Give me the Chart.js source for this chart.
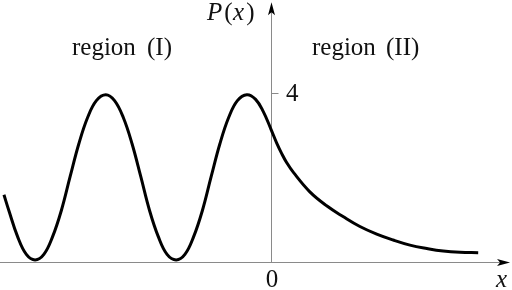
<!DOCTYPE html>
<html>
<head>
<meta charset="utf-8">
<title>P(x)</title>
<script src="https://cdn.jsdelivr.net/npm/chart.js"></script>
<style>
  html, body { margin: 0; padding: 0; background: #fff; }
  #wrap { width: 512px; height: 290px; }
</style>
</head>
<body>
<div id="wrap"><canvas id="chart"></canvas></div>
<script>
// values (x in arbitrary units, 0 at the P axis)
const xRegion1 = [-7.63, -7.49, -7.24, -6.99, -6.74, -6.49, -6.24, -5.99, -5.74, -5.49, -5.24, -4.99, -4.72,
  -4.47, -4.22, -3.97, -3.72, -3.47, -3.22, -2.97, -2.71, -2.46, -2.21, -1.96, -1.71, -1.46, -1.21, -0.96, -0.69,
  -0.44, -0.22, 0];
const pRegion1 = [1.59, 1.22, 0.60, 0.18, 0.05, 0.18, 0.60, 1.22, 2.02, 2.80, 3.42, 3.82, 3.96,
  3.82, 3.42, 2.80, 2.02, 1.22, 0.60, 0.18, 0.05, 0.18, 0.60, 1.22, 2.02, 2.80, 3.42, 3.82, 3.96,
  3.85, 3.56, 3.14];
const xRegion2 = [0.16, 0.31, 0.45, 0.64, 1.11, 1.59, 2.07, 2.54, 3.02, 3.49, 3.97, 4.45, 4.92, 5.40, 5.92];
const pRegion2 = [2.82, 2.56, 2.35, 2.12, 1.66, 1.33, 1.07, 0.84, 0.66, 0.52, 0.40, 0.32, 0.26, 0.23, 0.22];
const yTicks = [4];
const xTicks = [0];

const points = xRegion1.map((x, i) => ({ x: x, y: pRegion1[i] }))
  .concat(xRegion2.map((x, i) => ({ x: x, y: pRegion2[i] })));

const axisColor = '#8a8a8a';
const textColor = '#111';
const serif = '"Liberation Serif", serif';

function arrow(ctx, tipX, tipY, dir) {
  ctx.save();
  ctx.fillStyle = '#000';
  ctx.beginPath();
  if (dir === 'up') {
    ctx.moveTo(tipX, tipY);
    ctx.lineTo(tipX + 3.5, tipY + 13);
    ctx.lineTo(tipX, tipY + 10);
    ctx.lineTo(tipX - 3.5, tipY + 13);
  } else {
    ctx.moveTo(tipX, tipY);
    ctx.lineTo(tipX - 13, tipY - 3.5);
    ctx.lineTo(tipX - 10, tipY);
    ctx.lineTo(tipX - 13, tipY + 3.5);
  }
  ctx.closePath();
  ctx.fill();
  ctx.restore();
}

const axesPlugin = {
  id: 'axes',
  beforeDatasetsDraw(chart) {
    const ctx = chart.ctx;
    const xs = chart.scales.x, ys = chart.scales.y;
    const x0 = Math.round(xs.getPixelForValue(0)) + 0.5;
    const y0 = Math.round(ys.getPixelForValue(0)) + 0.5;
    const xEnd = xs.getPixelForValue(6.83);
    const yEnd = ys.getPixelForValue(6.15);
    ctx.save();
    ctx.strokeStyle = axisColor;
    ctx.lineWidth = 1;
    ctx.beginPath();
    ctx.moveTo(chart.chartArea.left, y0);
    ctx.lineTo(xEnd - 6, y0);
    ctx.moveTo(x0, y0);
    ctx.lineTo(x0, yEnd + 6);
    yTicks.forEach(v => {
      const py = Math.round(ys.getPixelForValue(v)) + 0.5;
      ctx.moveTo(x0, py);
      ctx.lineTo(x0 + 7, py);
    });
    ctx.stroke();
    ctx.restore();
    arrow(ctx, x0, yEnd, 'up');
    arrow(ctx, xEnd, y0, 'right');
  },
  afterDraw(chart) {
    const ctx = chart.ctx;
    const xs = chart.scales.x, ys = chart.scales.y;
    const x0 = xs.getPixelForValue(0);
    const y0 = ys.getPixelForValue(0);
    ctx.save();
    ctx.fillStyle = textColor;
    ctx.textBaseline = 'alphabetic';
    ctx.font = '25px ' + serif;

    yTicks.forEach(v => {
      ctx.textAlign = 'left';
      ctx.fillText(String(v), x0 + 15, ys.getPixelForValue(v) + 8);
    });
    xTicks.forEach(v => {
      ctx.textAlign = 'center';
      ctx.fillText(String(v), xs.getPixelForValue(v) + 1, y0 + 25);
    });

    ctx.textAlign = 'left';
    ctx.fillText('region', 72, 55);
    ctx.fillText('(I)', 147, 55);
    ctx.fillText('region', 312, 55);
    ctx.fillText('(II)', 386, 55);

    ctx.font = 'italic 25px ' + serif;
    ctx.fillText('x', 496, y0 + 25);

    let px = 207;
    const parts = [['P', true], ['(', false], ['x', true], [')', false]];
    parts.forEach(([t, it]) => {
      ctx.font = (it ? 'italic ' : '') + '25px ' + serif;
      ctx.fillText(t, px, 20);
      px += ctx.measureText(t).width + (it ? 2 : 0.5);
    });
    ctx.restore();
  }
};

new Chart(document.getElementById('chart'), {
  type: 'line',
  data: {
    datasets: [{
      data: points,
      borderColor: '#000',
      borderWidth: 3,
      pointRadius: 0,
      fill: false,
      tension: 0.4
    }]
  },
  options: {
    responsive: true,
    maintainAspectRatio: false,
    animation: false,
    devicePixelRatio: 1,
    layout: { padding: 0 },
    plugins: { legend: { display: false }, tooltip: { enabled: false } },
    scales: {
      x: { type: 'linear', display: false, min: -271 / 35, max: 241 / 35 },
      y: { type: 'linear', display: false, min: -28 / 42.25, max: 262 / 42.25 }
    }
  },
  plugins: [axesPlugin]
});
</script>
</body>
</html>
